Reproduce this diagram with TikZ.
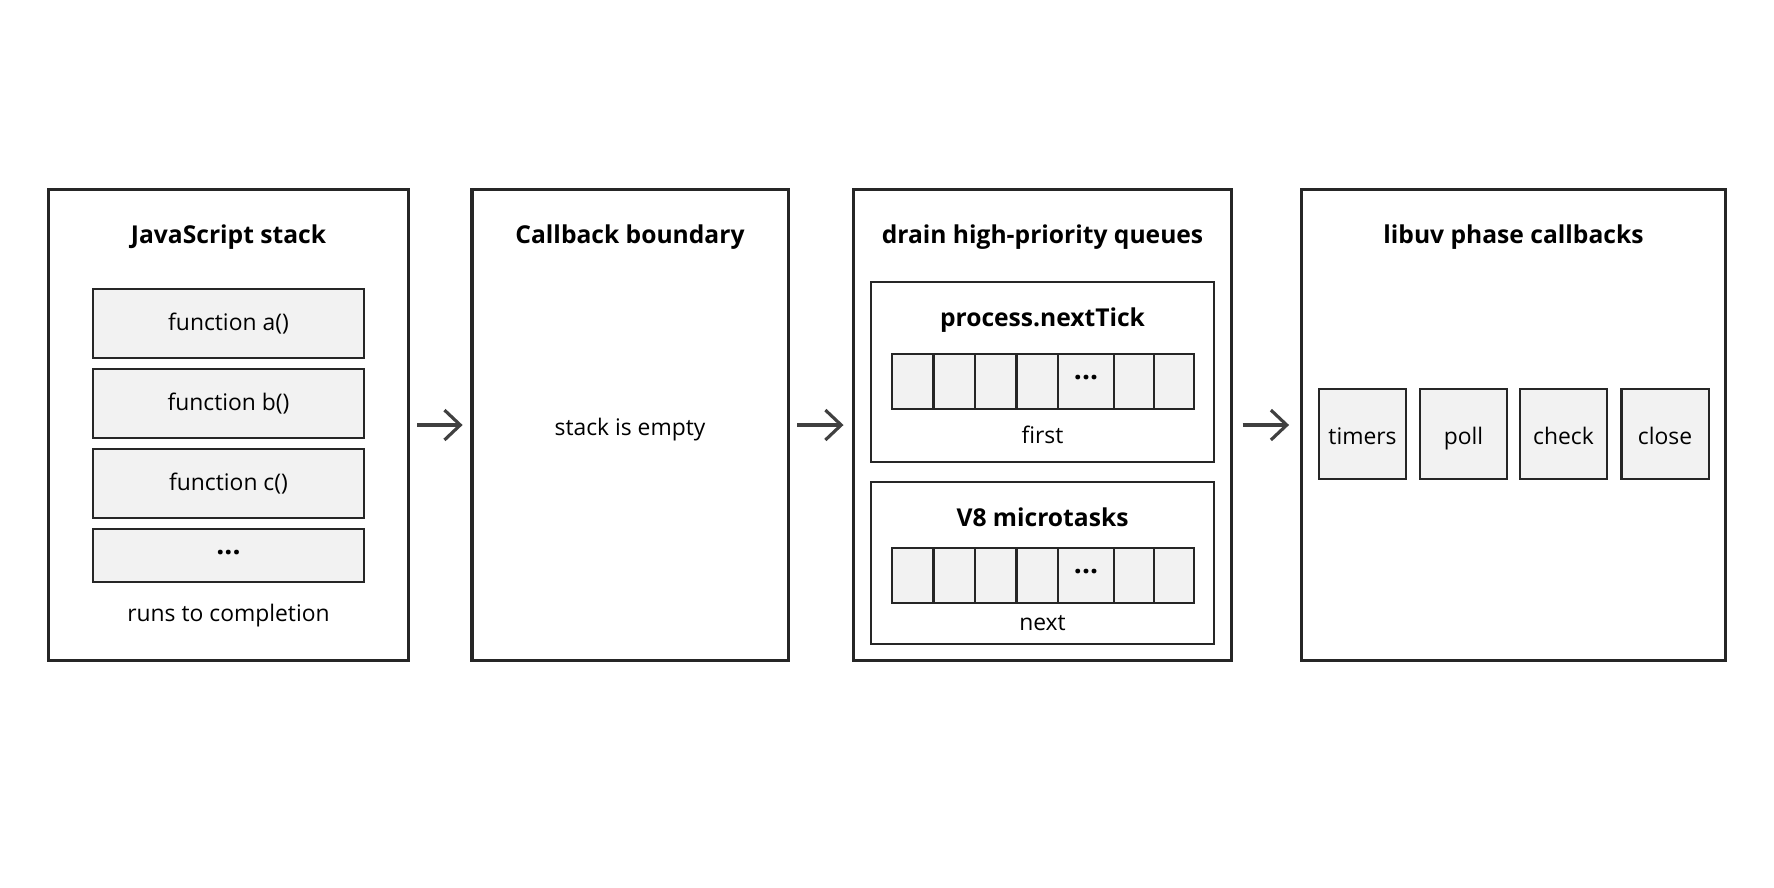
\documentclass[tikz,border=0pt]{standalone}
\usepackage{fontspec}
\setmainfont{Open Sans}
\usetikzlibrary{arrows.meta}
\begin{document}
\begin{tikzpicture}[x=0.01cm,y=-0.01cm,
	panel/.style={draw=black!85, line width=0.9pt, minimum height=4.7cm, inner sep=0pt},
	frame/.style={draw=black!85, fill=black!5, line width=0.6pt, minimum width=2.71cm, inner sep=0pt},
	cell/.style={draw=black!85, fill=black!5, line width=0.6pt, minimum height=0.55cm, inner sep=0pt},
	queue/.style={draw=black!85, line width=0.6pt, minimum width=3.43cm, inner sep=0pt},
	title/.style={font=\bfseries\fontsize{7.0}{9}\selectfont},
	txt/.style={font=\fontsize{6.5}{8}\selectfont},
	dots/.style={font=\bfseries\fontsize{8}{9}\selectfont},
	flow/.style={-{Straight Barb[length=4.5pt,width=8.5pt]}, draw=black!75, line width=0.9pt}]
	\useasboundingbox (0,0) rectangle (1774,887);
	% panels
	\node[panel, minimum width=3.6cm] (js) at (228.5,425) {};
	\node[panel, minimum width=3.16cm] (cb) at (630,425) {};
	\node[panel, minimum width=3.77cm] (hp) at (1042.5,425) {};
	\node[panel, minimum width=4.23cm] (uv) at (1513.5,425) {};
	\node[title] (tjs) at (228.5,237) {JavaScript stack};
	\node[title] (tcb) at (630,237) {Callback boundary};
	\node[title] (thp) at (1042.5,237) {drain high-priority queues};
	\node[title] (tuv) at (1513.5,237) {libuv phase callbacks};
	% javascript stack
	\node[frame, txt, minimum height=0.69cm] (fa) at (228.5,323.5) {function a()};
	\node[frame, txt, minimum height=0.69cm] (fb) at (228.5,403.5) {function b()};
	\node[frame, txt, minimum height=0.69cm] (fc) at (228.5,483.5) {function c()};
	\node[frame, minimum height=0.53cm] (fd) at (228.5,555.5) {};
	\node[dots] at (228.5,553) {...};
	\node[txt] (done) at (228.5,616) {runs to completion};
	% callback boundary
	\node[txt] (empty) at (630,430) {stack is empty};
	% high-priority queues
	\node[queue, minimum height=1.8cm] (qnt) at (1042.5,372) {};
	\node[queue, minimum height=1.62cm] (qmt) at (1042.5,563) {};
	\node[title] (tnt) at (1042.5,320) {process.nextTick};
	\node[title] (tmt) at (1042.5,517) {V8 microtasks};
	\foreach \i/\cx/\w in {1/912.75/0.415, 2/954.25/0.415, 3/995.75/0.415, 4/1037.25/0.415,
		5/1086/0.56, 6/1134/0.4, 7/1174/0.4} {
		\node[cell, minimum width=\w cm] (nt\i) at (\cx,381.5) {};
		\node[cell, minimum width=\w cm] (mt\i) at (\cx,575.5) {};
	}
	\node[dots] at (1086,378) {...};
	\node[dots] at (1086,572) {...};
	\node[txt] (first) at (1042.5,435) {first};
	\node[txt] (next) at (1042.5,623) {next};
	% libuv phases
	\foreach \n/\cx in {timers/1362.5, poll/1463.5, check/1563.5, close/1665} {
		\node[cell, txt, minimum width=0.87cm, minimum height=0.9cm, text height=1.6ex, text depth=0.45ex] (\n) at (\cx,434) {\n};
	}
	% flow
	\draw[flow, shorten <=2pt, shorten >=2.2pt] (js) -- (cb);
	\draw[flow, shorten <=2.2pt, shorten >=2.5pt] (cb) -- (hp);
	\draw[flow, shorten <=2.8pt, shorten >=3.2pt] (hp) -- (uv);
\end{tikzpicture}
\end{document}
